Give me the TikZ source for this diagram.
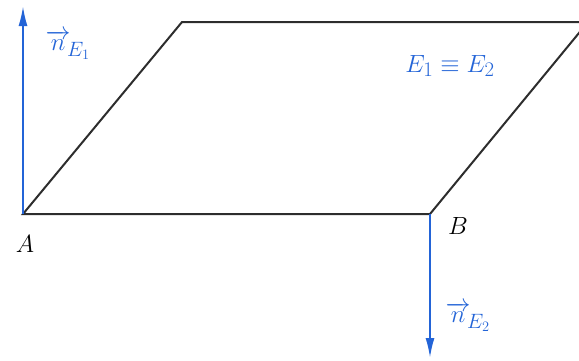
\documentclass[tikz,border=0pt]{standalone}
\usepackage{amsmath}
\usetikzlibrary{arrows.meta}
\definecolor{vecblue}{RGB}{35,100,215}
\definecolor{edgegray}{RGB}{45,45,45}
\tikzset{
  plane/.style={draw=edgegray, line width=2pt, line join=miter},
  normal/.style={draw=vecblue, line width=2pt, -{Latex[length=20pt,width=9pt]}},
  ptlabel/.style={font=\fontsize{31}{35}\selectfont, text=black, inner sep=0pt},
  veclabel/.style={font=\fontsize{31}{35}\selectfont, text=vecblue, inner sep=0pt}
}
\begin{document}
\begin{tikzpicture}[x=1pt,y=-1pt]
\useasboundingbox (0,0) rectangle (579,360);
\begin{scope}
\clip (0,0) rectangle (579,360);
\coordinate (A) at (23,214);
\coordinate (B) at (430,214);
\coordinate (C) at (588,22);
\coordinate (D) at (182,22);
\draw[plane] (A) -- (B) -- (C) -- (D) -- cycle;
\coordinate (nA) at (23,6);
\coordinate (nB) at (430,358);
\draw[normal] (A) -- (nA);
\draw[normal] (B) -- (nB);
\end{scope}
\node[ptlabel] (lA) at (25,244) {$A$};
\node[ptlabel] (lB) at (458,226) {$B$};
\node[veclabel] (lnA) at (68,45) {$\overrightarrow{n}_{\!E_1}$};
\node[veclabel] (lnB) at (468,317) {$\overrightarrow{n}_{\!E_2}$};
\node[veclabel] (lE) at (450,66) {$E_1\equiv E_2$};
\end{tikzpicture}
\end{document}
